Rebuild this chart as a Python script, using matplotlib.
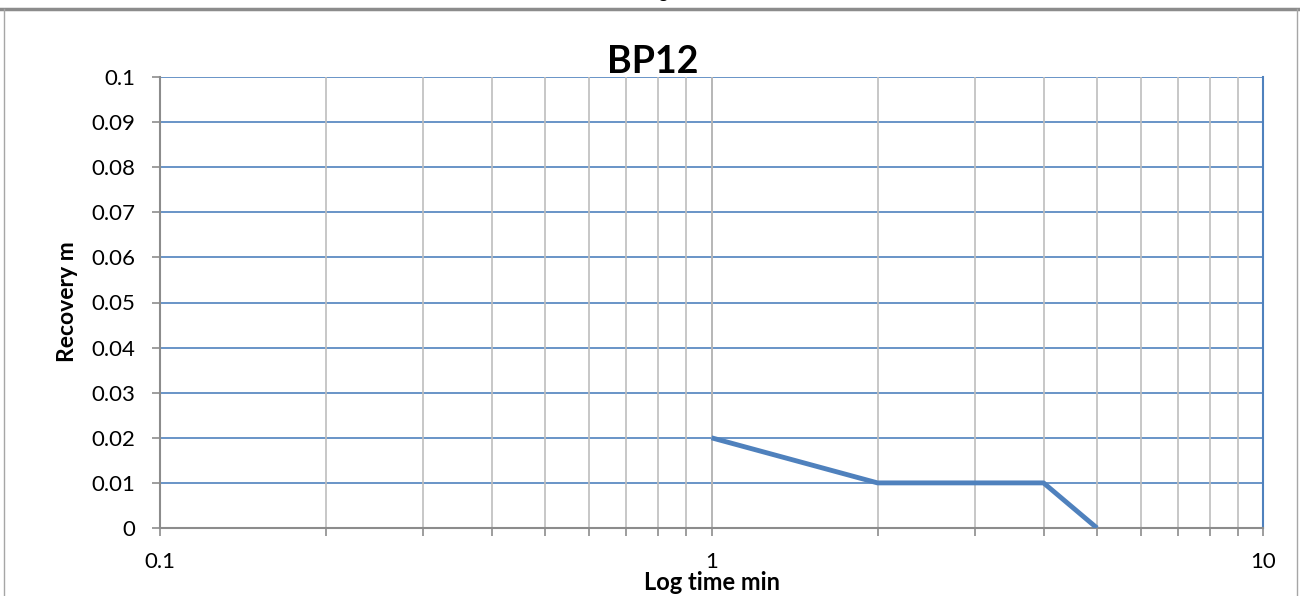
import numpy as np
import matplotlib.pyplot as plt
from matplotlib.lines import Line2D
from matplotlib.ticker import FixedLocator, LogLocator, NullFormatter

# Recovery data for BP12
time_min = [1, 2, 4, 5]
recovery_m = [0.02, 0.01, 0.01, 0.0]
y_ticks = [0, 0.01, 0.02, 0.03, 0.04, 0.05, 0.06, 0.07, 0.08, 0.09, 0.1]
y_labels = ["0", "0.01", "0.02", "0.03", "0.04", "0.05", "0.06", "0.07", "0.08", "0.09", "0.1"]
x_ticks = [0.1, 1, 10]
x_labels = ["0.1", "1", "10"]

plt.rcParams['font.family'] = ['Lato', 'DejaVu Sans']

blue = '#4F81BD'
grey = '#BEBEBE'

fig = plt.figure(figsize=(13, 5.96), dpi=100)
ax = fig.add_axes([160 / 1300, 1 - 528 / 596, 1103 / 1300, 451 / 596])

ax.plot(time_min, recovery_m, color=blue, lw=3.5, solid_capstyle='butt', zorder=5)

ax.set_xscale('log')
ax.set_xlim(0.1, 10)
ax.set_ylim(0, 0.1)

ax.xaxis.set_major_locator(FixedLocator(x_ticks))
ax.set_xticks(x_ticks)
ax.set_xticklabels(x_labels)
ax.xaxis.set_minor_locator(LogLocator(base=10, subs=np.arange(2, 10)))
ax.xaxis.set_minor_formatter(NullFormatter())
ax.set_yticks(y_ticks)
ax.set_yticklabels(y_labels)

# gridlines: blue horizontal, grey vertical
for yv in y_ticks[1:]:
    ax.axhline(yv, color=blue, lw=1.2, zorder=1)
ax.grid(True, axis='x', which='both', color=grey, lw=1.2, zorder=0)
ax.axvline(1, color='#8C8C8C', lw=1.2, zorder=1)

for side in ['left', 'bottom']:
    ax.spines[side].set_color('#8C8C8C')
    ax.spines[side].set_linewidth(1.5)
ax.spines['top'].set_visible(False)
ax.spines['right'].set_color(blue)
ax.spines['right'].set_linewidth(1.5)

ax.tick_params(axis='both', which='both', color='#8C8C8C', width=1.2, labelsize=16)
ax.tick_params(axis='x', which='major', length=6, pad=11)
ax.tick_params(axis='x', which='minor', length=6)
ax.tick_params(axis='y', length=6, pad=12)

fig.text(653 / 1300, 1 - 62 / 596, 'BP12', fontsize=27, fontweight='bold',
         ha='center', va='center', zorder=10)
ax.set_xlabel('Log time min', fontsize=17, fontweight='bold', va='center')
ax.xaxis.set_label_coords(0.5, (528 - 583) / 451)
ax.set_ylabel('Recovery m', fontsize=16.5, fontweight='bold', va='center')
ax.yaxis.set_label_coords((68 - 160) / 1103, (528 - 302) / 451)

# chart frame
fig.add_artist(Line2D([0, 1], [1 - 9 / 596, 1 - 9 / 596], color='#8C8C8C', lw=2.5))
fig.add_artist(Line2D([4 / 1300, 4 / 1300], [0, 1 - 9 / 596], color='#A6A6A6', lw=1))
fig.add_artist(Line2D([1297 / 1300, 1297 / 1300], [0, 1 - 9 / 596], color='#A6A6A6', lw=1))
fig.text(663 / 1300, 1.003, 'g', ha='center', va='baseline', fontsize=13)

fig.savefig('out.png', dpi=100)
